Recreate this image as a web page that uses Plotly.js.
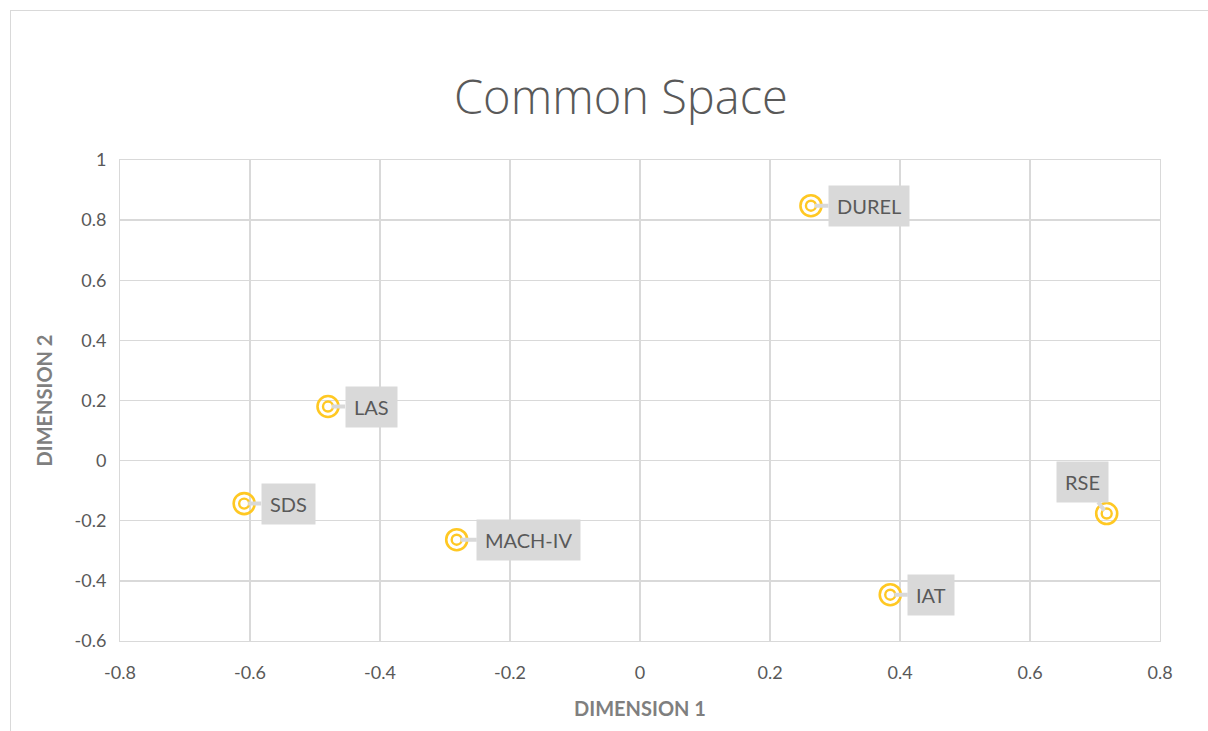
<!DOCTYPE html>
<html><head><meta charset="utf-8">
<script src="https://cdn.plot.ly/plotly-3.0.1.min.js"></script>
<style>body{margin:0;background:#fff}#wrap{position:relative;width:1208px;height:731px;overflow:hidden}
#frame{position:absolute;left:10px;top:10px;width:1220px;height:760px;border:1.5px solid #D9D9D9;pointer-events:none;z-index:5}
#chart{position:absolute;left:0;top:0;width:1208px;height:731px}</style>
</head><body><div id="wrap"><div id="chart"></div><div id="frame"></div></div>
<script>
const labels = ['DUREL','LAS','SDS','MACH-IV','IAT','RSE'];
const dim1 = [0.263,-0.480,-0.609,-0.282,0.385,0.718];
const dim2 = [0.848,0.180,-0.143,-0.263,-0.446,-0.176];
const xTickVals = [-0.8,-0.6,-0.4,-0.2,0,0.2,0.4,0.6,0.8];
const xTickText = ['-0.8','-0.6','-0.4','-0.2','0','0.2','0.4','0.6','0.8'];
const yTickVals = [-0.6,-0.4,-0.2,0,0.2,0.4,0.6,0.8,1];
const yTickText = ['-0.6','-0.4','-0.2','0','0.2','0.4','0.6','0.8','1'];
const labelOffsetX = [58,43,44,72,41,-24];
const labelOffsetY = [0,0,0,0,0,-32];
const gold = '#FFC823';
const traces = [
 {x:dim1,y:dim2,mode:'markers',type:'scatter',marker:{symbol:'circle-open',size:21,color:gold,line:{width:2.6,color:gold}},hoverinfo:'skip'},
 {x:dim1,y:dim2,mode:'markers',type:'scatter',marker:{symbol:'circle-open',size:10,color:gold,line:{width:2.4,color:gold}},text:labels,hoverinfo:'text'}
];
const ann = labels.map((t,i)=>({x:dim1[i],y:dim2[i],xref:'x',yref:'y',text:t,showarrow:true,ax:labelOffsetX[i],ay:labelOffsetY[i],
 arrowhead:0,arrowwidth:4,arrowcolor:'#D9D9D9',standoff:4,bgcolor:'#D9D9D9',borderpad:8,
 font:{family:'Lato, "Open Sans", sans-serif',size:20,color:'#595959'}}));
const tickFont={family:'Lato, "Open Sans", sans-serif',size:18,color:'#595959'};
const layout={width:1208,height:731,paper_bgcolor:'#fff',plot_bgcolor:'#fff',showlegend:false,
 margin:{l:120,r:48,t:160,b:90},
 title:{text:'Common Space',font:{family:'"Open Sans", Lato, sans-serif',size:47,color:'#595959',weight:300},x:0.514,xanchor:'center',y:0.867,yanchor:'middle',yref:'container'},
 xaxis:{range:[-0.8,0.8],tickmode:'array',tickvals:xTickVals,ticktext:xTickText,showgrid:true,gridcolor:'#D9D9D9',gridwidth:1.3,zeroline:false,showline:true,linecolor:'#D9D9D9',mirror:true,
  ticks:'outside',ticklen:15,tickcolor:'rgba(0,0,0,0)',tickfont:tickFont,
  title:{text:'DIMENSION 1',font:{family:'Lato, "Open Sans", sans-serif',size:20,color:'#7F7F7F',weight:'bold'},standoff:20}},
 yaxis:{range:[-0.6,1],tickmode:'array',tickvals:yTickVals,ticktext:yTickText,showgrid:true,gridcolor:'#D9D9D9',gridwidth:1.3,zeroline:false,showline:true,linecolor:'#D9D9D9',mirror:true,
  ticks:'outside',ticklen:9,tickcolor:'rgba(0,0,0,0)',tickfont:tickFont,
  title:{text:'DIMENSION 2',font:{family:'Lato, "Open Sans", sans-serif',size:20,color:'#7F7F7F',weight:'bold'},standoff:16}},
 annotations:ann};
Plotly.newPlot('chart',traces,layout,{displayModeBar:false,staticPlot:true});
</script></body></html>
